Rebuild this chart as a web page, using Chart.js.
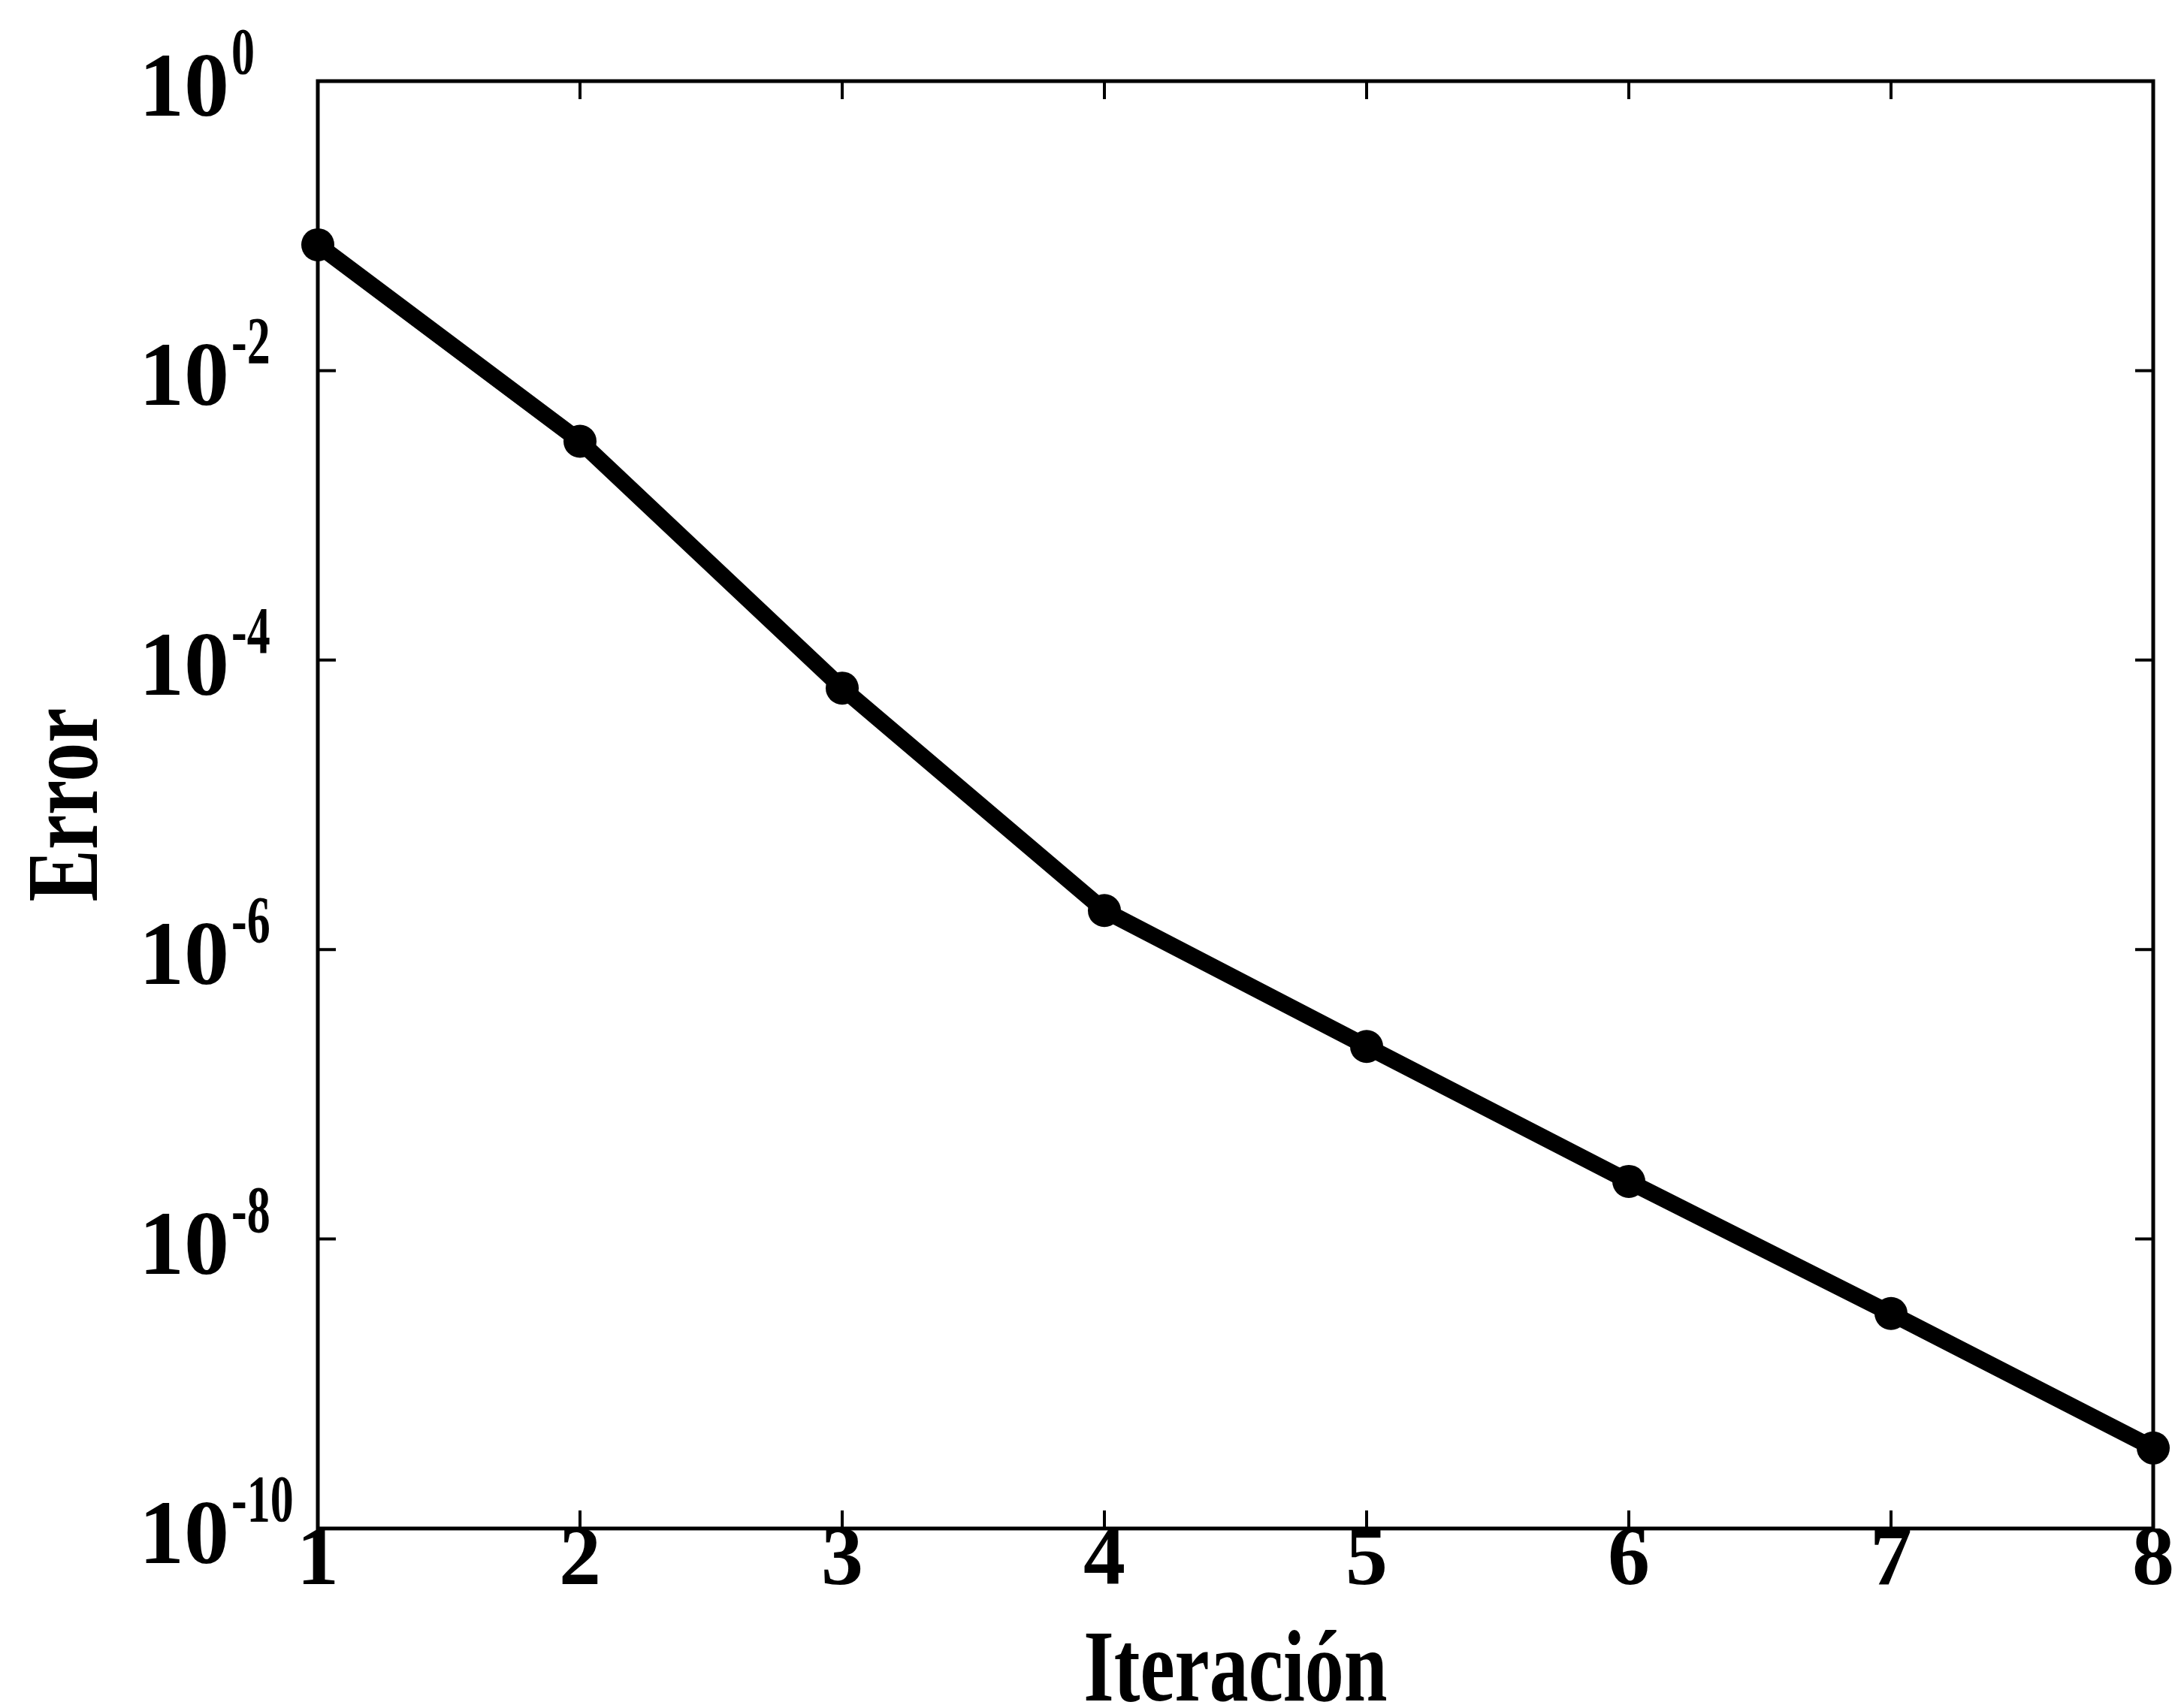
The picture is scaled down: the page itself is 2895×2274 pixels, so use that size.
<!DOCTYPE html>
<html>
<head>
<meta charset="utf-8">
<script src="https://cdn.jsdelivr.net/npm/chart.js@4.4.1/dist/chart.umd.min.js"></script>
<style>
html,body{margin:0;padding:0;background:#ffffff;}
#wrap{width:2895px;height:2274px;position:relative;}
</style>
</head>
<body>
<div id="wrap"><canvas id="c" width="2895" height="2274"></canvas></div>
<script>
// ---- data ----
const iterations = [1, 2, 3, 4, 5, 6, 7, 8];
const errorValues = [7.4e-2, 3.25e-3, 6.4e-5, 1.86e-6, 2.14e-7, 2.5e-8, 3.06e-9, 3.6e-10];
const xTickValues = [1, 2, 3, 4, 5, 6, 7, 8];
const yTickValues = [1e0, 1e-2, 1e-4, 1e-6, 1e-8, 1e-10];
const yTickExponents = ['0', '-2', '-4', '-6', '-8', '-10'];
const xTitle = 'Iteración';
const yTitle = 'Error';

const FONT = "'Liberation Serif', 'Times New Roman', serif";

const framePlugin = {
  id: 'matlabFrame',
  afterDraw(chart) {
    const ctx = chart.ctx;
    const a = chart.chartArea;
    const xs = chart.scales.x, ys = chart.scales.y;
    ctx.save();
    ctx.strokeStyle = '#000';
    ctx.fillStyle = '#000';
    // box
    ctx.lineWidth = 5;
    ctx.strokeRect(a.left, a.top, a.right - a.left, a.bottom - a.top);
    // inward ticks
    const tl = 24;
    ctx.lineWidth = 4;
    ctx.beginPath();
    xs.ticks.forEach(t => {
      const px = xs.getPixelForValue(t.value);
      ctx.moveTo(px, a.bottom); ctx.lineTo(px, a.bottom - tl);
      ctx.moveTo(px, a.top); ctx.lineTo(px, a.top + tl);
    });
    ys.ticks.forEach(t => {
      const py = ys.getPixelForValue(t.value);
      ctx.moveTo(a.left, py); ctx.lineTo(a.left + tl, py);
      ctx.moveTo(a.right, py); ctx.lineTo(a.right - tl, py);
    });
    ctx.stroke();
    // y tick labels: "10" with a superscript exponent
    ctx.textAlign = 'left';
    ctx.textBaseline = 'alphabetic';
    yTickValues.forEach((v, i) => {
      const py = ys.getPixelForValue(v);
      const bx = 185;
      ctx.font = 'bold 120px ' + FONT;
      ctx.fillText('10', bx, py + 46);
      const w = ctx.measureText('10').width;
      ctx.save();
      ctx.font = 'bold 62px ' + FONT;
      ctx.translate(bx + w + 3, py - 10);
      ctx.scale(1, 1.45);
      ctx.fillText(yTickExponents[i], 0, 0);
      ctx.restore();
    });
    // axis titles (slightly tall glyphs, as in the reference)
    ctx.font = 'bold 104px ' + FONT;
    ctx.textAlign = 'center';
    ctx.textBaseline = 'alphabetic';
    ctx.save();
    ctx.translate((a.left + a.right) / 2, 2264);
    ctx.scale(1, 1.3);
    ctx.fillText(xTitle, 0, 0);
    ctx.restore();
    ctx.save();
    ctx.translate(129, (a.top + a.bottom) / 2);
    ctx.rotate(-Math.PI / 2);
    ctx.scale(1, 1.3);
    ctx.fillText(yTitle, 0, 0);
    ctx.restore();
    ctx.restore();
  }
};

new Chart(document.getElementById('c'), {
  type: 'line',
  data: {
    datasets: [{
      data: iterations.map((x, i) => ({x: x, y: errorValues[i]})),
      borderColor: '#000',
      backgroundColor: '#000',
      borderWidth: 22,
      pointRadius: 22,
      pointBorderWidth: 0,
      pointBackgroundColor: '#000',
      tension: 0,
      clip: false,
      fill: false
    }]
  },
  options: {
    responsive: false,
    animation: false,
    devicePixelRatio: 1,
    layout: {padding: {top: 108, right: 29, left: 0, bottom: 0}},
    plugins: {legend: {display: false}, tooltip: {enabled: false}},
    scales: {
      x: {
        type: 'linear',
        position: 'bottom',
        min: 1, max: 8,
        afterBuildTicks: s => { s.ticks = xTickValues.map(v => ({value: v})); },
        afterFit: s => { s.height = 239; s.paddingLeft = 0; s.paddingRight = 0; },
        grid: {display: false, drawTicks: false},
        border: {display: false},
        ticks: {
          autoSkip: false, maxRotation: 0, padding: -11, color: '#000',
          font: {family: FONT, weight: 'bold', size: 112, lineHeight: 1},
          callback: v => String(v)
        },
        title: {display: false}
      },
      y: {
        type: 'logarithmic',
        position: 'left',
        min: 1e-10, max: 1,
        afterBuildTicks: s => { s.ticks = yTickValues.map(v => ({value: v})); },
        afterFit: s => { s.width = 423; s.paddingTop = 0; s.paddingBottom = 0; },
        grid: {display: false, drawTicks: false},
        border: {display: false},
        ticks: {display: false},
        title: {display: false}
      }
    }
  },
  plugins: [framePlugin]
});
</script>
</body>
</html>
